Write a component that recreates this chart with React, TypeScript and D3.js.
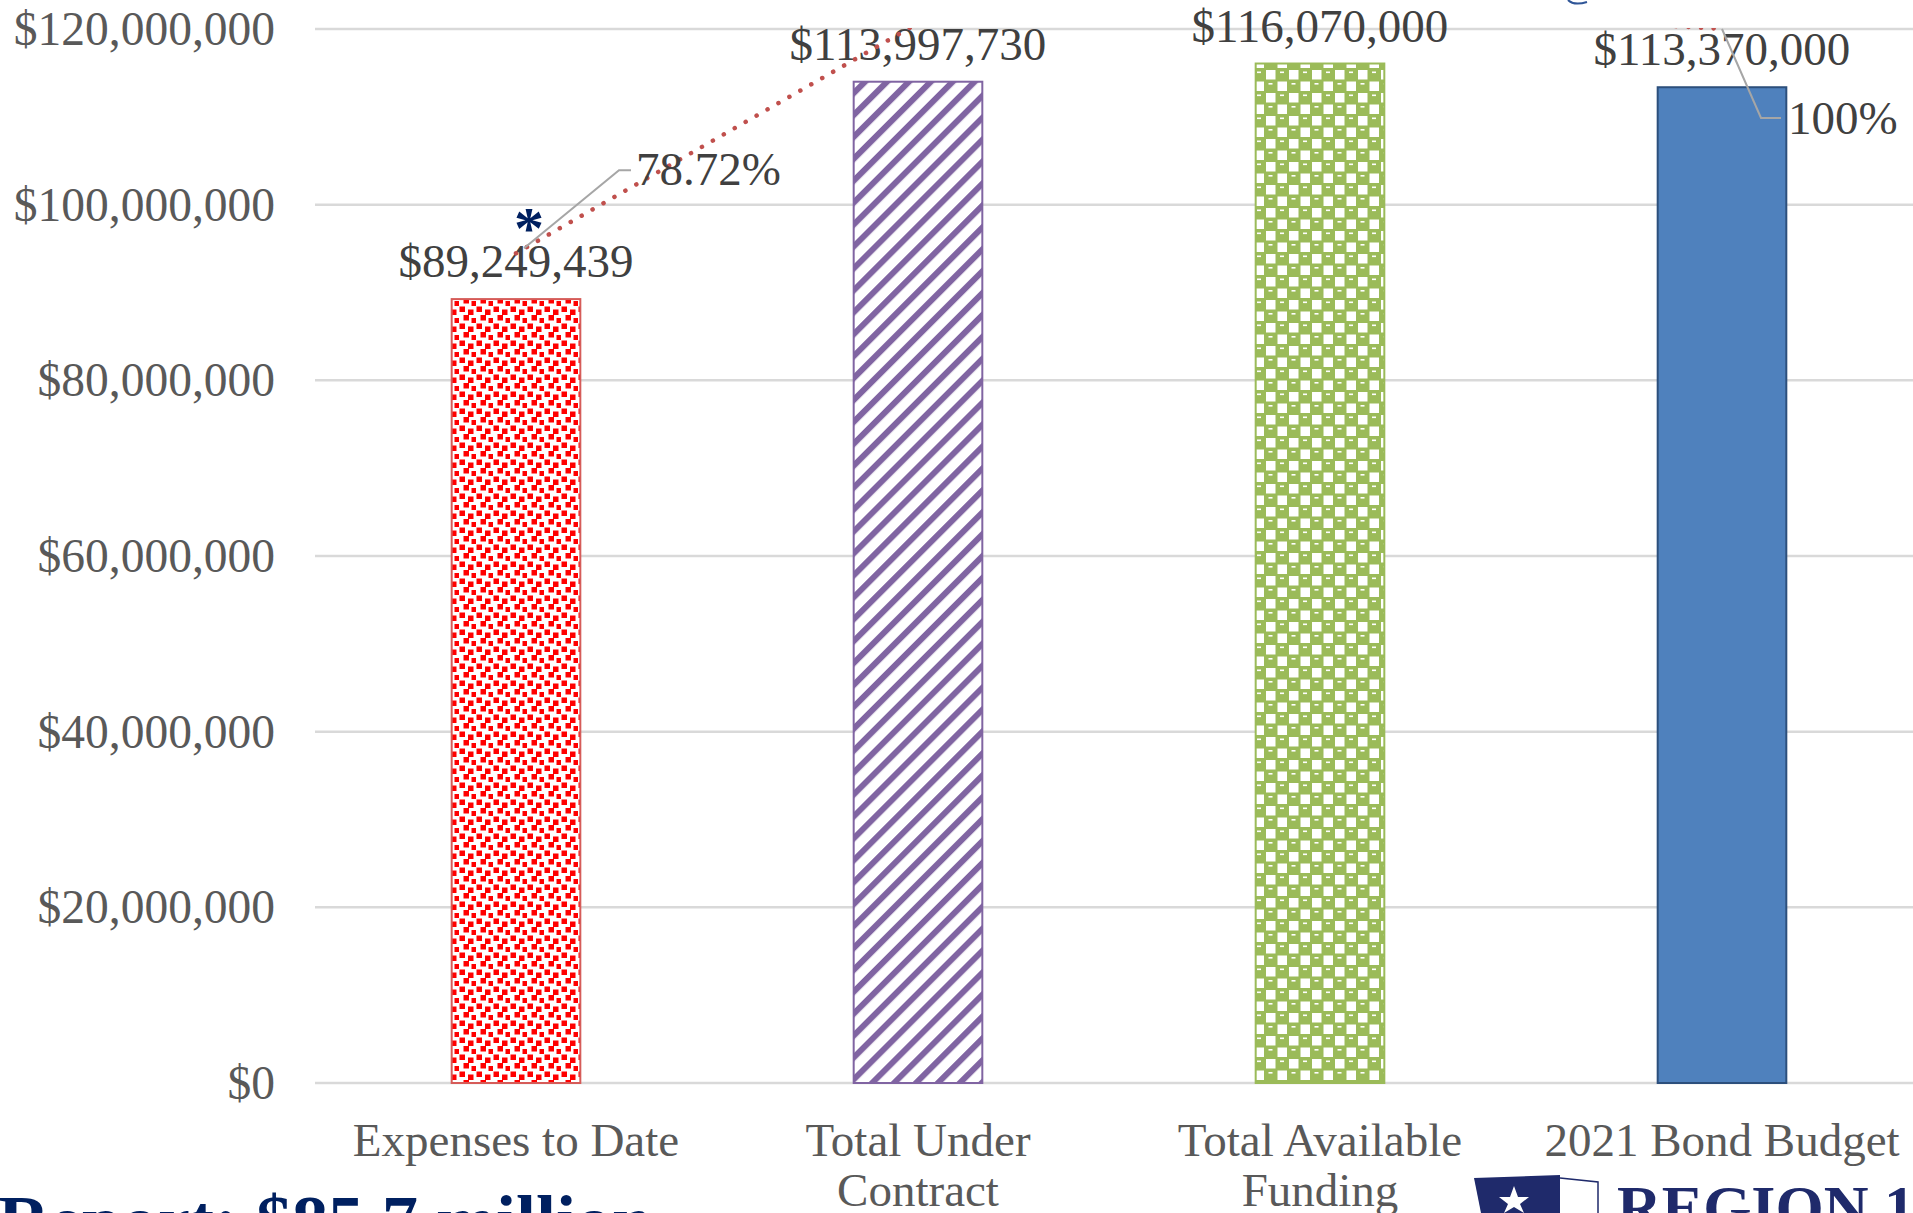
import * as d3 from "d3";

const categories = [
  "Expenses to Date",
  "Total Under Contract",
  "Total Available Funding",
  "2021 Bond Budget",
];
const categoryLines = [
  ["Expenses to Date"],
  ["Total Under", "Contract"],
  ["Total Available", "Funding"],
  ["2021 Bond Budget"],
];
const amounts = [89249439, 113997730, 116070000, 113370000];
const amountLabels = ["$89,249,439", "$113,997,730", "$116,070,000", "$113,370,000"];
// share of the 2021 bond budget, drawn against a hidden 0-100% axis
const percentOfBudget = [0.7872, 1.0055, 1.0238, 1.0];
const percentLabels = ["78.72%", "", "", "100%"];
const yTicks = [0, 20e6, 40e6, 60e6, 80e6, 100e6, 120e6];

const W = 1913;
const H = 1213;
const SERIF = "'Liberation Serif', 'Times New Roman', serif";

export default function App() {
  const plot = { left: 315, right: 1923, top: 29, bottom: 1083 };

  const x = d3
    .scaleBand<string>()
    .domain(categories)
    .range([plot.left, plot.right])
    .paddingInner(0.68)
    .paddingOuter(0.34);

  const y = d3.scaleLinear().domain([0, 120e6]).range([plot.bottom, plot.top]);
  const yPct = d3.scaleLinear().domain([0, 1]).range([plot.bottom, plot.top]);

  const cx = (c: string) => (x(c) as number) + x.bandwidth() / 2;
  const fmt = d3.format("$,");

  const barFill = ["url(#confetti)", "url(#stripes)", "url(#checks)", "#4f81bd"];
  const barStroke = ["#d65b58", "#8064a2", "#9bbb59", "#2c4f7c"];

  const pctLine = d3
    .line<number>()
    .x((_, i) => cx(categories[i]))
    .y((d) => yPct(d));

  // leader line offsets for the two percent labels
  const leaders = [
    { from: [8, -5], elbow: [103, -83], end: [115, -83], text: [120, -68] },
    null,
    null,
    { from: [0, 0], elbow: [39, 89], end: [59, 89], text: [66, 105] },
  ];

  return (
    <svg
      width={W}
      height={H}
      style={{ position: "absolute", left: 0, top: 0, background: "#fff" }}
    >
      <defs>
        <pattern id="confetti" width="17" height="17" patternUnits="userSpaceOnUse">
          <rect width="17" height="17" fill="#fff" />
          <rect x="0.5" y="0.5" width="5.5" height="5.5" fill="#ff0000" />
          <rect x="9" y="3.5" width="5.5" height="5.5" fill="#ff0000" />
          <rect x="4.5" y="9" width="5.5" height="5.5" fill="#ff0000" />
          <rect x="12.5" y="12" width="5.5" height="5.5" fill="#ff0000" />
        </pattern>
        <pattern
          id="stripes"
          width="15.5"
          height="15.5"
          patternUnits="userSpaceOnUse"
          patternTransform="rotate(45)"
        >
          <rect width="15.5" height="15.5" fill="#fff" />
          <rect width="6" height="15.5" fill="#8064a2" />
        </pattern>
        <pattern id="checks" width="23" height="23" patternUnits="userSpaceOnUse">
          <rect width="23" height="23" fill="#9bbb59" />
          <rect x="1" y="1" width="9.5" height="9.5" fill="#fff" />
          <rect x="12.5" y="12.5" width="9.5" height="9.5" fill="#fff" />
          <rect x="15" y="2.5" width="4" height="1.6" fill="#fff" />
          <rect x="3.5" y="14" width="4" height="1.6" fill="#fff" />
        </pattern>
        <clipPath id="plotClip">
          <rect x={plot.left} y={plot.top - 1} width={W - plot.left} height={plot.bottom - plot.top + 1} />
        </clipPath>
      </defs>

      {/* gridlines + y axis labels */}
      {yTicks.map((t) => (
        <g key={t}>
          <line
            x1={plot.left}
            x2={W}
            y1={y(t)}
            y2={y(t)}
            stroke="#d9d9d9"
            strokeWidth={2.5}
          />
          <text
            x={275}
            y={y(t) + 16}
            textAnchor="end"
            fontFamily={SERIF}
            fontSize={47.5}
            fill="#595959"
          >
            {fmt(t)}
          </text>
        </g>
      ))}

      {/* bars */}
      {categories.map((c, i) => (
        <rect
          key={c}
          x={x(c)}
          y={y(amounts[i])}
          width={x.bandwidth()}
          height={y(0) - y(amounts[i])}
          fill={barFill[i]}
          stroke={barStroke[i]}
          strokeWidth={2}
        />
      ))}

      {/* bar value labels */}
      {categories.map((c, i) => (
        <text
          key={c}
          x={cx(c)}
          y={y(amounts[i]) - 22}
          textAnchor="middle"
          fontFamily={SERIF}
          fontSize={47}
          fill="#404040"
        >
          {amountLabels[i]}
        </text>
      ))}

      {/* percent line, clipped to plot area like Excel */}
      <path
        d={pctLine(percentOfBudget) || ""}
        clipPath="url(#plotClip)"
        fill="none"
        stroke="#c0504d"
        strokeWidth={4.5}
        strokeDasharray="0.1 12.5"
        strokeLinecap="round"
      />

      {/* percent labels with leader lines */}
      {categories.map((c, i) => {
        const l = leaders[i];
        if (!l || !percentLabels[i]) return null;
        const px = cx(c);
        const py = yPct(percentOfBudget[i]);
        const pts: [number, number][] = [
          [px + l.from[0], py + l.from[1]],
          [px + l.elbow[0], py + l.elbow[1]],
          [px + l.end[0], py + l.end[1]],
        ];
        return (
          <g key={c}>
            <path d={d3.line()(pts) || ""} fill="none" stroke="#a6a6a6" strokeWidth={2} />
            <text
              x={px + l.text[0]}
              y={py + l.text[1]}
              fontFamily={SERIF}
              fontSize={47}
              fill="#404040"
            >
              {percentLabels[i]}
            </text>
          </g>
        );
      })}

      {/* asterisk marker */}
      <text
        x={cx(categories[0]) + 13}
        y={y(amounts[0]) - 51}
        textAnchor="middle"
        fontFamily={SERIF}
        fontWeight="bold"
        fontSize={60}
        fill="#002060"
      >
        *
      </text>

      {/* category labels */}
      {categories.map((c, i) => (
        <text
          key={c}
          textAnchor="middle"
          fontFamily={SERIF}
          fontSize={47}
          fill="#595959"
        >
          {categoryLines[i].map((line, j) => (
            <tspan key={j} x={cx(c)} y={1156 + j * 50}>
              {line}
            </tspan>
          ))}
        </text>
      ))}

      {/* cut-off caption from the slide */}
      <text
        x={-2}
        y={1245}
        fontFamily={SERIF}
        fontWeight="bold"
        fontSize={72}
        fill="#002060"
      >
        Report: $85.7 million
      </text>

      {/* partial logo */}
      <g>
        <path d="M1474,1178 L1560,1175 L1560,1213 L1481,1213 Z" fill="#1f2a6b" />
        <path
          d="M1514,1186 L1518,1197 L1529,1197 L1520,1204 L1524,1213 L1514,1207 L1504,1213 L1508,1204 L1499,1197 L1510,1197 Z"
          fill="#fff"
        />
        <path d="M1560,1178 L1598,1182 L1598,1213" fill="none" stroke="#1f2a6b" strokeWidth={1.5} />
        <text x={1617} y={1228} fontFamily={SERIF} fontWeight="bold" fontSize={62} fill="#1f2a6b">
          REGION 1
        </text>
      </g>

      {/* clipped callout hook at top */}
      <path d="M1568,0 Q1574,6 1587,2" fill="none" stroke="#2f5597" strokeWidth={2} />
    </svg>
  );
}
